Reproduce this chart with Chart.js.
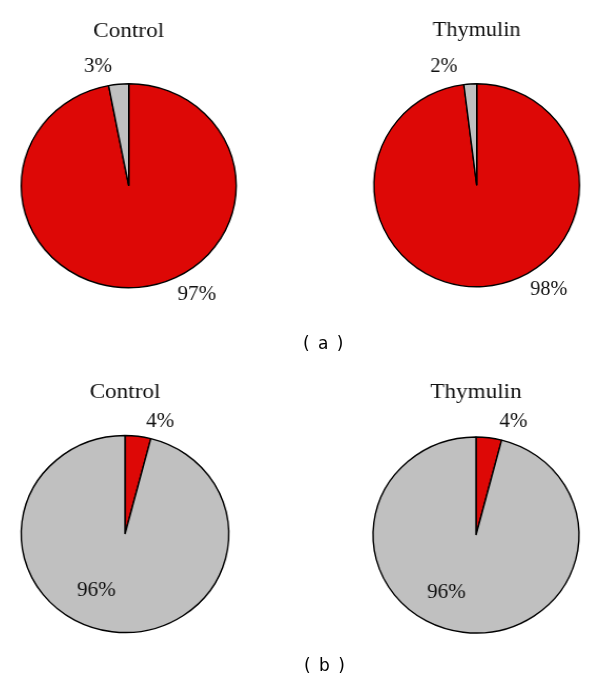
<!DOCTYPE html>
<html>
<head>
<meta charset="utf-8">
<script src="https://cdn.jsdelivr.net/npm/chart.js@4.4.1/dist/chart.umd.min.js"></script>
<style>
  body { margin: 0; background: #fff; }
  #wrap { position: relative; width: 600px; height: 684px; overflow: hidden; }
  .pie { position: absolute; width: 300px; height: 342px; }
  .tag { position: absolute; font-family: "DejaVu Sans", sans-serif; font-size: 17px; white-space: pre; letter-spacing: 1.5px; color: #000; }
</style>
</head>
<body>
<div id="wrap">
  <div class="pie" id="box1" style="left:0;top:0"><canvas id="pie1" width="300" height="342"></canvas></div>
  <div class="pie" id="box2" style="left:300px;top:0"><canvas id="pie2" width="300" height="342"></canvas></div>
  <div class="pie" id="box3" style="left:0;top:342px"><canvas id="pie3" width="300" height="342"></canvas></div>
  <div class="pie" id="box4" style="left:300px;top:342px"><canvas id="pie4" width="300" height="342"></canvas></div>
  <div class="tag" style="left:303px;top:333px">( a )</div>
  <div class="tag" style="left:304px;top:655px">( b )</div>
</div>
<script>
// datos (porcentajes)
const categorias = ['Rojo', 'Gris'];
const controlA = [97, 3];
const thymulinA = [98, 2];
const controlB = [4, 96];
const thymulinB = [4, 96];
const titulos = ['Control', 'Thymulin', 'Control', 'Thymulin'];

const rojo = '#DD0806';
const gris = '#C0C0C0';

// etiquetas de porcentaje, desplazadas en unidades del radio
const etiquetasPct = {
  id: 'etiquetasPct',
  afterDatasetsDraw(chart, args, opts) {
    const ctx = chart.ctx;
    const arcs = chart.getDatasetMeta(0).data;
    const valores = chart.data.datasets[0].data;
    ctx.save();
    ctx.font = '20px "Liberation Serif", serif';
    ctx.fillStyle = '#111';
    ctx.textAlign = 'center';
    ctx.textBaseline = 'middle';
    arcs.forEach((arc, i) => {
      const p = opts.pos[i];
      ctx.fillText(valores[i] + '%', arc.x + p[0] * arc.outerRadius, arc.y + p[1] * arc.outerRadius);
    });
    ctx.restore();
  }
};

function crearPie(id, valores, titulo, geo) {
  const W = 300, H = 342;
  // titulo: linea 22px * 1.2
  const padTop = geo.base - 20.6;
  const top = padTop + 26.4;
  const bottom = 2 * geo.cy - top;
  const left = geo.cx < W / 2 ? 0 : 2 * geo.cx - W;
  const right = geo.cx < W / 2 ? W - 2 * geo.cx : 0;

  const box = document.getElementById(id).parentNode;
  box.style.transformOrigin = geo.cx + 'px ' + geo.cy + 'px';
  box.style.transform = 'scaleX(' + geo.sx + ')';

  new Chart(document.getElementById(id), {
    type: 'pie',
    data: {
      labels: categorias,
      datasets: [{
        data: valores,
        backgroundColor: [rojo, gris],
        borderColor: '#000',
        borderWidth: 1.4
      }]
    },
    options: {
      responsive: false,
      animation: false,
      radius: geo.r,
      layout: { padding: { top: 0, bottom: H - bottom, left: left, right: right } },
      plugins: {
        legend: { display: false },
        tooltip: { enabled: false },
        title: {
          display: true,
          text: titulo,
          color: '#111',
          font: { family: '"Liberation Serif", serif', size: 22, weight: 'normal' },
          padding: { top: padTop, bottom: 0 }
        },
        etiquetasPct: { pos: geo.pos }
      }
    },
    plugins: [etiquetasPct]
  });
}

crearPie('pie1', controlA, titulos[0], { cx: 128.7, cy: 185.8, r: 102, sx: 1.054, base: 39, pos: [[0.634, 1.064], [-0.286, -1.169]] });
crearPie('pie2', thymulinA, titulos[1], { cx: 176.7, cy: 185.3, r: 101.5, sx: 1.013, base: 37.5, pos: [[0.701, 1.025], [-0.318, -1.171]] });
crearPie('pie3', controlB, titulos[2], { cx: 125, cy: 192, r: 98.5, sx: 1.054, base: 58, pos: [[0.338, -1.136], [-0.275, 0.581]] });
crearPie('pie4', thymulinB, titulos[3], { cx: 176, cy: 193, r: 98, sx: 1.051, base: 57.3, pos: [[0.364, -1.155], [-0.287, 0.592]] });
</script>
</body>
</html>
